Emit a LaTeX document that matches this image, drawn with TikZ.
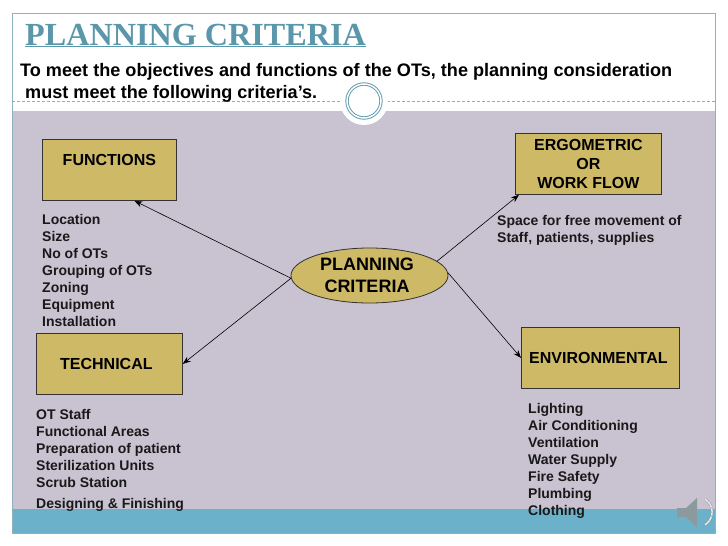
\documentclass[tikz,border=0pt]{standalone}
\usepackage{fontspec}
\setmainfont{Liberation Sans}
\newfontfamily\titlefont{Liberation Serif}
\usetikzlibrary{arrows.meta,positioning,shapes.geometric}
\definecolor{slidegray}{HTML}{C9C2D1}
\definecolor{slideteal}{HTML}{6BB1C9}
\definecolor{titleteal}{HTML}{5B97AB}
\definecolor{framelin}{HTML}{8FB0C0}
\definecolor{boxgold}{HTML}{CEB966}
\definecolor{speaker}{HTML}{8C9A9E}

\begin{document}
\begin{tikzpicture}[x=1pt,y=-1pt,
  crit/.style={draw=black!80,fill=boxgold,thick,inner sep=0pt,font=\fontsize{16}{19}\selectfont\bfseries,align=center,anchor=north west},
  hub/.style={ellipse,draw=black!80,fill=boxgold,thick,inner sep=0pt,minimum width=157pt,minimum height=55pt},
  blurb/.style={font=\fontsize{14}{17}\selectfont\bfseries,align=left,anchor=north west,inner sep=0pt,color=black!90},
  arr/.style={-{Stealth[length=8pt,width=6pt]},semithick},
]
  \useasboundingbox (0,0) rectangle (728,546);
  \fill[white] (0,0) rectangle (728,546);

  % slide background
  \fill[slidegray] (12,111) rectangle (715,509);
  \fill[slideteal] (12,509) rectangle (715,533);
  \draw[framelin,thick] (12,13) rectangle (715,533);
  \draw[framelin,densely dashed] (12,101) -- (715,101);

  % badge
  \fill[white] (364,101) circle (24);
  \node[circle,draw=titleteal,line width=.9pt,double=white,double distance=1.5pt,fill=white,minimum size=34pt,inner sep=0pt] (badge) at (364,101) {};

  % heading
  \node[font=\titlefont\fontsize{32.2}{38}\selectfont\bfseries,text=titleteal,anchor=west,inner sep=0pt] (heading) at (25,35) {PLANNING CRITERIA};
  \draw[titleteal,thick] (heading.south west) -- (heading.south east);
  \node[font=\fontsize{18.1}{22}\selectfont\bfseries,align=left,anchor=north west,inner sep=0pt] (intro) at (20,63) {To meet the objectives and functions of the OTs, the planning consideration\\\ must meet the following criteria's.};

  % boxes
  \node[crit,minimum width=134pt,minimum height=61pt] (functions) at (42,139) {FUNCTIONS\\\mbox{}};
  \node[crit,minimum width=146pt,minimum height=61pt] (technical) at (36,333) {\mbox{TECHNICAL\kern6pt}};
  \node[crit,minimum width=146pt,minimum height=61pt] (ergo) at (515,133) {ERGOMETRIC\\OR\\WORK FLOW};
  \node[crit,minimum width=158pt,minimum height=61pt] (environ) at (521,327) {\mbox{ENVIRONMENTAL\kern4pt}};
  \node[hub,font=\fontsize{18}{22}\selectfont\bfseries,align=center] (planning) at (369.5,275.5) {\mbox{PLANNING\kern5pt}\\\mbox{CRITERIA\kern5pt}};

  % lists
  \node[blurb] (functionslist) at (42,214) {Location\\Size\\No of OTs\\Grouping of OTs\\Zoning\\Equipment\\Installation};
  \node[blurb] (technicallist) at (36,409) {OT Staff\\Functional Areas\\Preparation of patient\\Sterilization Units\\Scrub Station};
  \node[blurb] (finishing) at (36,498) {Designing \& Finishing};
  \node[blurb] (ergolist) at (497,215) {Space for free movement of\\Staff, patients, supplies};
  \node[blurb] (environlist) at (528,403) {Lighting\\Air Conditioning\\Ventilation\\Water Supply\\Fire Safety\\Plumbing\\Clothing};

  \draw[arr] (planning.182) -- (functions.-51);
  \draw[arr] (planning.182) -- (technical.east);
  \draw[arr] (planning.12) -- (ergo.204);
  \draw[arr] (planning.2) -- (environ.west);

  % speaker icon
  \fill[speaker] (677,508) -- (686,508) -- (697,498) -- (697,527) -- (686,517) -- (677,517) -- cycle;
  \foreach \a in {-50,-38,-26,-6,6,26,38,50}
    \draw[speaker,line width=.5pt,double=white!85!speaker,double distance=1.4pt,rotate around={\a:(697,512)}] (712,510) -- (712,514);
\end{tikzpicture}
\end{document}
